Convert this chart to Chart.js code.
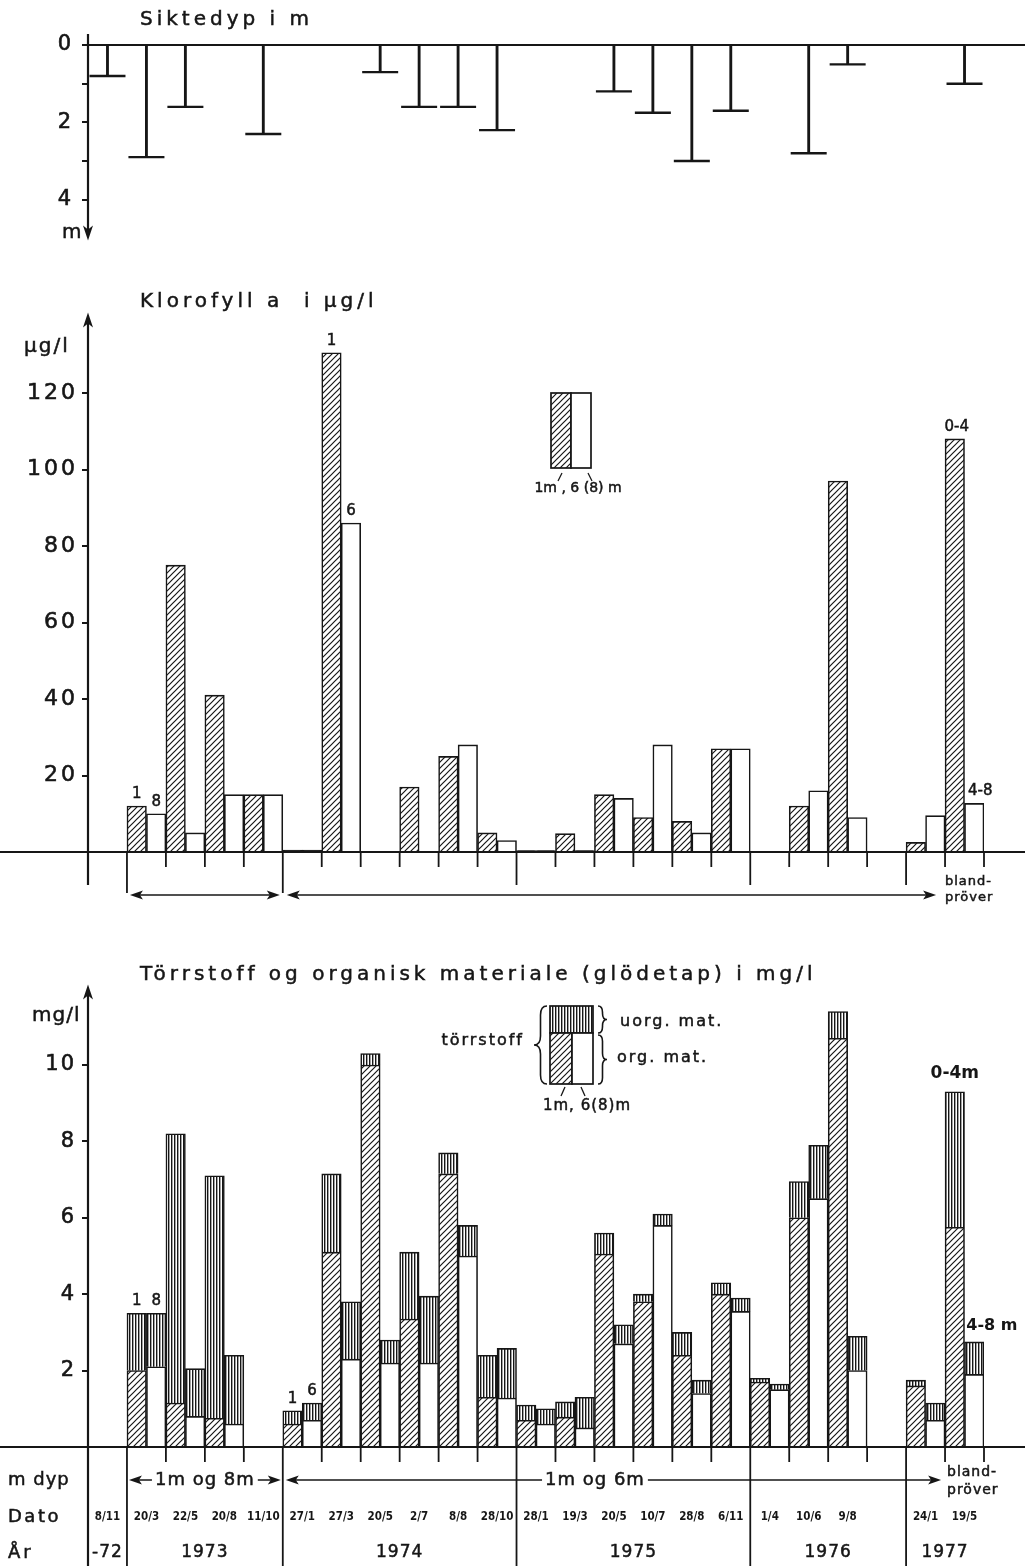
<!DOCTYPE html>
<html lang="no">
<head>
<meta charset="UTF-8">
<title>Siktedyp, klorofyll a og törrstoff</title>
<script src="https://cdn.jsdelivr.net/npm/chart.js"></script>
<style>
  body { margin: 0; background: #fff; }
  .wrap { position: relative; width: 1025px; height: 1566px; overflow: hidden; }
  canvas { position: absolute; left: 0; }
</style>
</head>
<body>
<div class="wrap">
  <canvas id="sikt" width="1025" height="260" style="top:0"></canvas>
  <canvas id="klor" width="1025" height="660" style="top:260px"></canvas>
  <canvas id="torr" width="1025" height="646" style="top:920px"></canvas>
</div>
<script>
// sampling dates, one slot each (slot 20 is an empty slot in 1976)
const dates = ['8/11', '20/3', '22/5', '20/8', '11/10', '27/1', '27/3', '20/5', '2/7', '8/8', '28/10',
               '28/1', '19/3', '20/5', '10/7', '28/8', '6/11', '1/4', '10/6', '9/8', '', '24/1', '19/5'];
const yearLabels = ['-72', '1973', '1974', '1975', '1976', '1977'];
const yearFirstSlot = [0, 1, 5, 11, 17, 21];
const yearLastSlot = [0, 4, 10, 16, 20, 22];

// Siktedyp i m
const siktedyp = [0.8, 2.9, 1.6, null, 2.3, null, null, 0.7, 1.6, 1.6, 2.2, null, null,
                  1.2, 1.75, 3.0, 1.7, null, 2.8, 0.5, null, null, 1.0];

// Klorofyll a i µg/l (1 m and 6 (8) m, last date: 0-4 m and 4-8 m mixed samples)
const klor1m = [null, 12, 75, 41, 15, 0.5, 130.5, null, 17, 25, 5, 0.4, 4.8, 15, 9, 8, 27, null, 12, 97, null, 2.5, 108];
const klor6m = [null, 10, 5, 15, 15, 0.5, 86, null, null, 28, 3, 0.4, 0.4, 14, 28, 5, 27, null, 16, 9, null, 9.5, 12.7];

// Törrstoff in mg/l split into organic (glödetap) and inorganic matter
const org1m  = [null, 2.0, 1.15, 0.75, null, 0.6, 5.1, 10.0, 3.35, 7.15, 1.3, 0.7, 0.78, 5.05, 3.8, 2.4, 4.0, 1.7, 6.0, 10.7, null, 1.6, 5.75];
const uorg1m = [null, 1.5, 7.05, 6.35, null, 0.35, 2.05, 0.3, 1.75, 0.55, 1.1, 0.4, 0.4, 0.55, 0.2, 0.6, 0.3, 0.1, 0.95, 0.7, null, 0.15, 3.55];
const org6m  = [null, 2.1, 0.8, 0.6, null, 0.7, 2.3, 2.2, 2.2, 5.0, 1.28, 0.6, 0.5, 2.7, 5.8, 1.4, 3.55, 1.5, 6.5, 2.0, null, 0.7, 1.9];
const uorg6m = [null, 1.4, 1.25, 1.8, null, 0.45, 1.5, 0.6, 1.75, 0.8, 1.3, 0.4, 0.8, 0.5, 0.3, 0.35, 0.35, 0.15, 1.4, 0.9, null, 0.45, 0.85];

const INK = '#161616';
const FONT = '"DejaVu Sans", sans-serif';
Chart.defaults.font.family = FONT;
Chart.defaults.color = INK;

// fill patterns
function makePattern(w, h, draw) {
    const c = document.createElement('canvas');
    c.width = w; c.height = h;
    const g = c.getContext('2d');
    g.fillStyle = '#fff';
    g.fillRect(0, 0, w, h);
    g.strokeStyle = INK;
    g.fillStyle = INK;
    draw(g);
    return g.createPattern(c, 'repeat');
}
const hatch = makePattern(6, 6, g => {
    g.lineWidth = 1.2;
    g.beginPath();
    g.moveTo(0, 6); g.lineTo(6, 0);
    g.moveTo(-1, 1); g.lineTo(1, -1);
    g.moveTo(5, 7); g.lineTo(7, 5);
    g.stroke();
});
const stripes = makePattern(3, 4, g => {
    g.fillRect(0, 0, 1.4, 4);
});

// small drawing helpers
function seg(ctx, x1, y1, x2, y2, w) {
    ctx.lineWidth = w;
    ctx.beginPath();
    ctx.moveTo(x1, y1);
    ctx.lineTo(x2, y2);
    ctx.stroke();
}
function txt(ctx, s, x, y, size, o = {}) {
    ctx.save();
    ctx.font = (o.weight || 'normal') + ' ' + size + 'px ' + (o.family || FONT);
    ctx.letterSpacing = (o.ls || 0) + 'px';
    ctx.textAlign = o.align || 'left';
    ctx.textBaseline = 'middle';
    ctx.fillStyle = INK;
    if (o.bg) {
        const w = ctx.measureText(s).width;
        const x0 = o.align === 'center' ? x - w / 2 : x;
        ctx.fillStyle = '#fff';
        ctx.fillRect(x0 - 3, y - size / 2, w + 6, size);
        ctx.fillStyle = INK;
    }
    ctx.fillText(s, x, y);
    if (!o.weight) {
        // scanned lettering is a bit heavier than the plain face
        ctx.strokeStyle = INK;
        ctx.lineWidth = 0.5;
        ctx.strokeText(s, x, y);
    }
    ctx.restore();
}
function headH(ctx, x, y, dir) {
    ctx.beginPath();
    ctx.moveTo(x, y);
    ctx.lineTo(x - dir * 13, y - 4.5);
    ctx.lineTo(x - dir * 10, y);
    ctx.lineTo(x - dir * 13, y + 4.5);
    ctx.closePath();
    ctx.fill();
}
function headV(ctx, x, y, dir) {
    ctx.beginPath();
    ctx.moveTo(x, y);
    ctx.lineTo(x - 5, y - dir * 15);
    ctx.lineTo(x, y - dir * 11);
    ctx.lineTo(x + 5, y - dir * 15);
    ctx.closePath();
    ctx.fill();
}
function dblArrow(ctx, x1, x2, y) {
    seg(ctx, x1 + 8, y, x2 - 8, y, 1.7);
    headH(ctx, x1, y, -1);
    headH(ctx, x2, y, 1);
}
function brace(ctx, x, y1, y2, w, dir) {
    const m = (y1 + y2) / 2, q = w / 2, r = Math.min(q * 1.4, (y2 - y1) / 4);
    ctx.lineWidth = 1.6;
    ctx.beginPath();
    ctx.moveTo(x, y1);
    ctx.quadraticCurveTo(x + dir * q, y1, x + dir * q, y1 + r);
    ctx.lineTo(x + dir * q, m - r);
    ctx.quadraticCurveTo(x + dir * q, m, x + dir * w, m);
    ctx.quadraticCurveTo(x + dir * q, m, x + dir * q, m + r);
    ctx.lineTo(x + dir * q, y2 - r);
    ctx.quadraticCurveTo(x + dir * q, y2, x, y2);
    ctx.stroke();
}
function box(ctx, x, y, w, h, fill) {
    ctx.fillStyle = fill;
    ctx.fillRect(x, y, w, h);
    ctx.fillStyle = INK;
    ctx.lineWidth = 1.7;
    ctx.strokeRect(x, y, w, h);
}
function slotEdge(x, k) {
    const half = (x.getPixelForValue(1) - x.getPixelForValue(0)) / 2;
    return x.getPixelForValue(k) - half;
}

const tickFont = size => ({ color: INK, font: { size }, textStrokeColor: INK, textStrokeWidth: 0.6 });

function baseOptions(padding, y) {
    return {
        responsive: false,
        animation: false,
        layout: { padding },
        plugins: { legend: { display: false }, tooltip: { enabled: false } },
        scales: {
            x: { type: 'category', display: false, offset: true },
            y: Object.assign({
                afterFit: s => { s.width = 88; },
                border: { display: false }
            }, y)
        }
    };
}

const spacing = ls => ({ id: 'spacing', beforeDraw(chart) { chart.ctx.letterSpacing = ls + 'px'; } });

// ---------- Siktedyp ----------
const siktDecor = {
    id: 'siktDecor',
    afterDraw(chart) {
        const { ctx, scales: { x, y } } = chart;
        const y0 = y.getPixelForValue(0);
        ctx.save();
        ctx.strokeStyle = INK; ctx.fillStyle = INK;
        seg(ctx, x.left, y0, chart.width, y0, 2.2);
        seg(ctx, x.left, y0 - 11, x.left, y.bottom - 4, 2.2);
        headV(ctx, x.left, y.bottom + 2, 1);
        txt(ctx, 'm', 62, y.bottom - 6, 20);
        txt(ctx, 'Siktedyp i m', 140, 20, 20, { ls: 4 });
        ctx.restore();
    }
};
new Chart(document.getElementById('sikt'), {
    data: {
        labels: dates,
        datasets: [
            { type: 'bar', data: siktedyp, backgroundColor: INK, borderWidth: 0, barThickness: 2.2 },
            { type: 'line', data: siktedyp, showLine: false, pointStyle: 'line', pointRadius: 18,
              pointHoverRadius: 18, pointBorderWidth: 2.4, pointBorderColor: INK, borderColor: INK }
        ]
    },
    options: baseOptions({ left: 0, right: 41, top: 45, bottom: 20 }, {
        reverse: true, min: 0, max: 5,
        grid: { drawOnChartArea: false, drawTicks: true, tickLength: 6, lineWidth: 2,
                color: c => (c.tick && c.tick.value > 4) ? 'rgba(0,0,0,0)' : INK },
        ticks: Object.assign(tickFont(21), { stepSize: 1, padding: 9,
                 callback: v => (v % 2 === 0 && v <= 4) ? v : '' })
    }),
    plugins: [spacing(2), siktDecor]
});

// ---------- Klorofyll a ----------
const klorDecor = {
    id: 'klorDecor',
    afterDraw(chart) {
        const { ctx, scales: { x, y } } = chart;
        const y0 = y.getPixelForValue(0);
        ctx.save();
        ctx.letterSpacing = '0px';
        ctx.strokeStyle = INK; ctx.fillStyle = INK;
        seg(ctx, 0, y0, chart.width, y0, 2.2);
        seg(ctx, x.left, y0 + 33, x.left, y.top + 6, 2.2);
        headV(ctx, x.left, y.top - 4, -1);
        for (let k = 1; k <= dates.length; k++) {
            let len = 15;
            if (k === 1 || k === 5) len = 41;
            else if (k === 11 || k === 17 || k === 21) len = 33;
            seg(ctx, slotEdge(x, k), y0, slotEdge(x, k), y0 + len, 1.8);
        }
        dblArrow(ctx, slotEdge(x, 1) + 3, slotEdge(x, 5) - 3, y0 + 43);
        dblArrow(ctx, slotEdge(x, 5) + 4, slotEdge(x, 21) + 30, y0 + 43);
        txt(ctx, 'bland-', 945, y0 + 30, 13, { ls: 1 });
        txt(ctx, 'pröver', 945, y0 + 46, 13, { ls: 1 });

        txt(ctx, 'Klorofyll a  i µg/l', 140, 42, 20, { ls: 4 });
        txt(ctx, 'µg/l', 24, 87, 20, { ls: 2 });

        // legend
        box(ctx, 551, 133, 20, 75, hatch);
        box(ctx, 571, 133, 20, 75, '#fff');
        seg(ctx, 562, 213, 558, 221, 1.3);
        seg(ctx, 588, 213, 592, 221, 1.3);
        txt(ctx, '1m , 6 (8) m', 578, 228, 14, { align: 'center' });

        // depth labels above bars
        const m1 = chart.getDatasetMeta(0).data, m6 = chart.getDatasetMeta(1).data;
        const lab = (el, s, dx = 0) => txt(ctx, s, el.x + dx, el.y - 12, 15, { align: 'center' });
        lab(m1[1], '1'); lab(m6[1], '8');
        lab(m1[6], '1'); lab(m6[6], '6');
        lab(m1[22], '0-4', 2); lab(m6[22], '4-8', 6);
        ctx.restore();
    }
};
// bars that are only a line thick are drawn solid, as in the original
const thinSolid = fill => c => (c.raw !== null && c.raw < 1) ? INK : fill;
new Chart(document.getElementById('klor'), {
    data: {
        labels: dates,
        datasets: [
            { type: 'bar', data: klor1m, backgroundColor: thinSolid(hatch), borderColor: INK, borderWidth: 1.6,
              categoryPercentage: 1, barPercentage: 1 },
            { type: 'bar', data: klor6m, backgroundColor: thinSolid('#fff'), borderColor: INK, borderWidth: 1.6,
              categoryPercentage: 1, barPercentage: 1 }
        ]
    },
    options: baseOptions({ left: 0, right: 41, top: 56.5, bottom: 68 }, {
        min: 0, max: 140,
        grid: { drawOnChartArea: false, drawTicks: true, tickLength: 6, lineWidth: 2,
                color: c => (c.tick && (c.tick.value === 0 || c.tick.value === 140)) ? 'rgba(0,0,0,0)' : INK },
        ticks: Object.assign(tickFont(22), { stepSize: 20, padding: 4,
                 callback: v => (v > 0 && v < 140) ? v : '' })
    }),
    plugins: [spacing(3), klorDecor]
});

// ---------- Törrstoff og organisk materiale ----------
const torrDecor = {
    id: 'torrDecor',
    afterDraw(chart) {
        const { ctx, scales: { x, y } } = chart;
        const y0 = y.getPixelForValue(0);
        const H = chart.height;
        ctx.save();
        ctx.letterSpacing = '0px';
        ctx.strokeStyle = INK; ctx.fillStyle = INK;
        seg(ctx, 0, y0, chart.width, y0, 2.2);
        seg(ctx, x.left, H, x.left, y.top + 6, 2.2);
        headV(ctx, x.left, y.top - 4, -1);
        const separators = [1, 5, 11, 17, 21];
        for (let k = 1; k <= dates.length; k++) {
            const ex = slotEdge(x, k);
            seg(ctx, ex, y0, ex, separators.includes(k) ? H : y0 + 15, 1.8);
        }

        txt(ctx, 'Törrstoff og organisk materiale (glödetap) i mg/l', 140, 55, 20, { ls: 4 });
        txt(ctx, 'mg/l', 32, 96, 20, { ls: 1 });

        // row labels
        txt(ctx, 'm dyp', 8, y0 + 33, 18, { ls: 1 });
        txt(ctx, 'Dato', 8, y0 + 70, 18, { ls: 2.5 });
        txt(ctx, 'År', 8, y0 + 106, 18, { ls: 3 });

        // sampling depth arrows
        const a1 = slotEdge(x, 1) + 2, a2 = slotEdge(x, 5) - 2;
        dblArrow(ctx, a1, a2, y0 + 33);
        txt(ctx, '1m og 8m', (a1 + a2) / 2, y0 + 33, 18, { align: 'center', ls: 1, bg: true });
        const b1 = slotEdge(x, 5) + 3, b2 = slotEdge(x, 21) + 35;
        dblArrow(ctx, b1, b2, y0 + 33);
        txt(ctx, '1m og 6m', x.getPixelForValue(12) + 20, y0 + 33, 18, { align: 'center', ls: 1, bg: true });
        txt(ctx, 'bland-', 947, y0 + 25, 14, { ls: 1 });
        txt(ctx, 'pröver', 947, y0 + 43, 14, { ls: 1 });

        // dates and years
        dates.forEach((d, i) => {
            if (d) txt(ctx, d, x.getPixelForValue(i), y0 + 70, 11.5,
                       { align: 'center', weight: 'bold', family: '"DejaVu Sans Condensed", "DejaVu Sans", sans-serif' });
        });
        yearLabels.forEach((s, j) => {
            const cx = (slotEdge(x, yearFirstSlot[j]) + slotEdge(x, yearLastSlot[j] + 1)) / 2;
            txt(ctx, s, cx, y0 + 106, 17, { align: 'center', ls: 1 });
        });

        // legend
        box(ctx, 550, 86, 43, 27, stripes);
        box(ctx, 550, 113, 22, 51, hatch);
        box(ctx, 572, 113, 21, 51, '#fff');
        brace(ctx, 547, 86, 164, 13, -1);
        brace(ctx, 598, 86, 113, 9, 1);
        brace(ctx, 598, 115, 164, 9, 1);
        txt(ctx, 'törrstoff', 524, 121, 16, { align: 'right', ls: 2 });
        txt(ctx, 'uorg. mat.', 620, 102, 16, { ls: 2 });
        txt(ctx, 'org. mat.', 617, 138, 16, { ls: 2 });
        seg(ctx, 565, 167, 561, 176, 1.3);
        seg(ctx, 581, 167, 585, 176, 1.3);
        txt(ctx, '1m, 6(8)m', 587, 186, 15, { align: 'center', ls: 1 });

        // depth labels above stacks
        const t1 = chart.getDatasetMeta(2).data, t6 = chart.getDatasetMeta(3).data;
        const lab = (el, s) => txt(ctx, s, el.x, el.y - 12, 15, { align: 'center' });
        lab(t1[1], '1'); lab(t6[1], '8');
        lab(t1[5], '1'); lab(t6[5], '6');
        txt(ctx, '0-4m', t1[22].x, t1[22].y - 18, 17, { align: 'center', weight: 'bold' });
        txt(ctx, '4-8 m', t6[22].x - 8, t6[22].y - 16, 16, { weight: 'bold' });
        ctx.restore();
    }
};
const seriesStyle = { borderColor: INK, borderWidth: 1.6, categoryPercentage: 1, barPercentage: 1 };
new Chart(document.getElementById('torr'), {
    type: 'bar',
    data: {
        labels: dates,
        datasets: [
            Object.assign({ label: 'org. mat. 1 m', data: org1m, stack: 'a', backgroundColor: hatch }, seriesStyle),
            Object.assign({ label: 'org. mat. 6(8) m', data: org6m, stack: 'b', backgroundColor: '#fff' }, seriesStyle),
            Object.assign({ label: 'uorg. mat. 1 m', data: uorg1m, stack: 'a', backgroundColor: stripes }, seriesStyle),
            Object.assign({ label: 'uorg. mat. 6(8) m', data: uorg6m, stack: 'b', backgroundColor: stripes }, seriesStyle)
        ]
    },
    options: (() => {
        const o = baseOptions({ left: 0, right: 41, top: 68.6, bottom: 119 }, {
            stacked: true, min: 0, max: 12,
            grid: { drawOnChartArea: false, drawTicks: true, tickLength: 6, lineWidth: 2,
                    color: c => (c.tick && (c.tick.value === 0 || c.tick.value === 12)) ? 'rgba(0,0,0,0)' : INK },
            ticks: Object.assign(tickFont(21), { stepSize: 2, padding: 6,
                     callback: v => (v > 0 && v < 12) ? v : '' })
        });
        o.scales.x.stacked = true;
        return o;
    })(),
    plugins: [spacing(2), torrDecor]
});
</script>
</body>
</html>
